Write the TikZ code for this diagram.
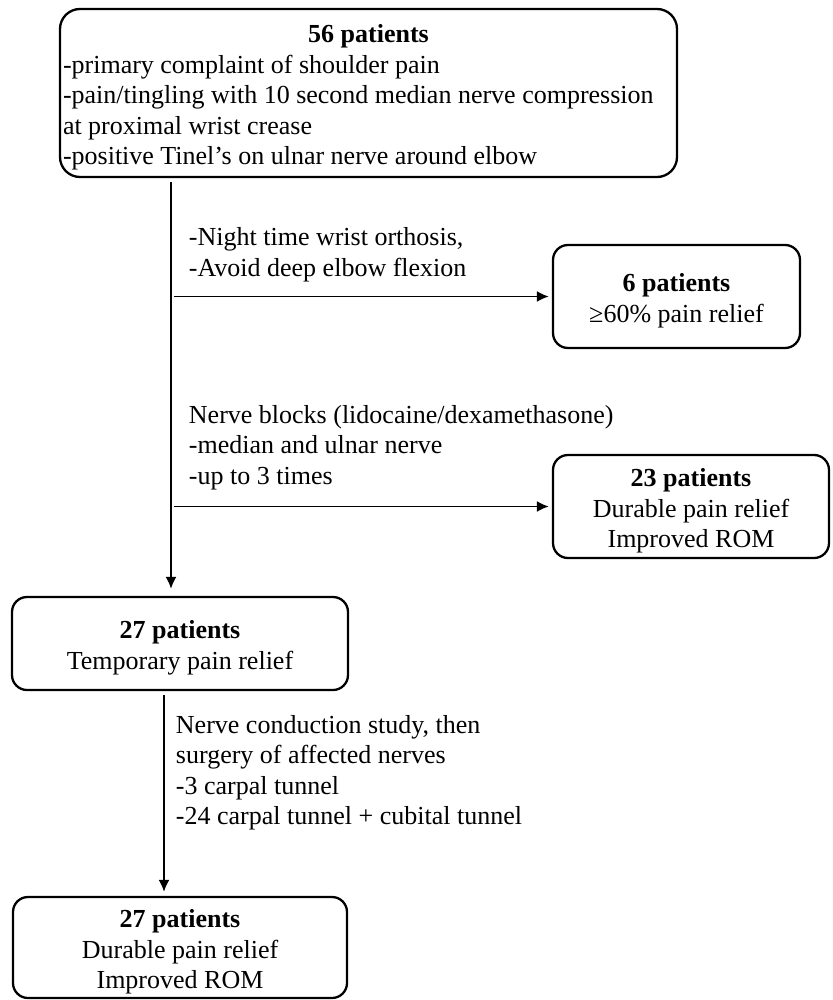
\documentclass[tikz,border=0pt]{standalone}
\usepackage{fontspec}
\setmainfont{Liberation Serif}
\usepackage{tikz}
\usetikzlibrary{positioning}
\usetikzlibrary{arrows.meta}
\tikzstyle{line} = [draw, line width=1.9pt, -{Latex[length=12pt,width=11pt]}]
\newcommand{\boxtitle}[1]{\rule{0pt}{27pt}\textbf{#1}}

\begin{document}
\begin{tikzpicture}[x=1pt, y=-1pt,
		font=\fontsize{26}{30.5}\selectfont,
		box/.style={draw, rectangle, rounded corners=15pt,
			line width=2.3pt, align=center, inner sep=3pt},
		note/.style={align=left, inner sep=0pt}]
		\useasboundingbox (0,0) rectangle (832,1000);
		%% Boxes
		\node [box, rounded corners=20pt, minimum width=617pt, minimum height=168pt, text width=611pt, align=flush left] at (368.5,93) (Screen) {\makebox[611pt]{\boxtitle{56 patients}}\\-primary complaint of shoulder pain\\-pain/tingling with 10 second median nerve compression\\at proximal wrist crease\\-positive Tinel’s on ulnar nerve around elbow};
		\node [box, minimum width=247pt, minimum height=103pt] at (676.5,296.5) (Relief6) {\boxtitle{6 patients}\\≥60\% pain relief};
		\node [box, minimum width=276pt, minimum height=103pt] at (691,506.5) (Relief23) {\boxtitle{23 patients}\\Durable pain relief\\Improved ROM};
		\node [box, minimum width=336pt, minimum height=93pt] at (180,643.5) (Temp) {\boxtitle{27 patients}\\Temporary pain relief};
		\node [box, minimum width=334pt, minimum height=101pt] at (180,947.5) (Final) {\boxtitle{27 patients}\\Durable pain relief\\Improved ROM};
		%% Trunk and branch points
		\coordinate (Trunk) at (171,0);
		\coordinate (Split1) at (174,296.5);
		\coordinate (Split2) at (174,506.5);
		%% Flows
		\path [line, shorten <=4pt, shorten >=7pt] (Screen.south -| Trunk) -- (Temp.north -| Trunk);
		\path [line, shorten >=3pt] (Split1) -- node [pos=0, above right=14pt and 14pt, note] (OrthosisText) {-Night time wrist orthosis,\\-Avoid deep elbow flexion} (Relief6);
		\path [line, shorten >=3pt] (Split2) -- node [pos=0, above right=16pt and 14pt, note] (BlockText) {Nerve blocks (lidocaine/dexamethasone)\\-median and ulnar nerve\\-up to 3 times} (Relief23);
		\path [line, shorten <=4pt, shorten >=4pt] ([xshift=-16pt]Temp.south) -- node [pos=0, below right=23pt and 11pt, note] (SurgeryText) {Nerve conduction study, then\\surgery of affected nerves\\-3 carpal tunnel\\-24 carpal tunnel + cubital tunnel} ([xshift=-16pt]Final.north);
	\end{tikzpicture}
\end{document}
